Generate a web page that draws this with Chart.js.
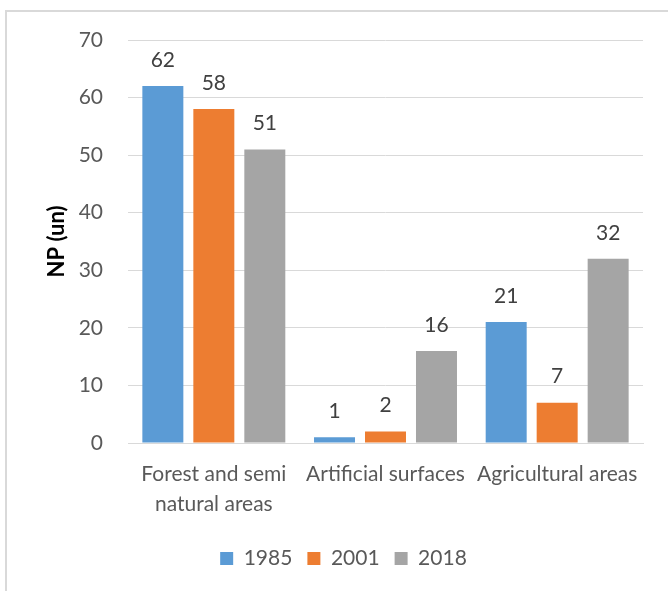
<!DOCTYPE html>
<html>
<head>
<meta charset="utf-8">
<script src="https://cdn.jsdelivr.net/npm/chart.js@4"></script>
<style>
html,body{margin:0;padding:0;background:#fff;}
#wrap{position:relative;width:668px;height:591px;overflow:hidden;}
#frame{position:absolute;left:5px;top:10px;width:800px;height:800px;border-left:2px solid #d9d9d9;border-top:2px solid #d9d9d9;pointer-events:none;}
canvas{position:absolute;left:0;top:0;}
</style>
</head>
<body>
<div id="wrap"><div id="frame"></div><canvas id="c" width="668" height="591"></canvas></div>
<script>
const categories = [["Forest and semi", "natural areas"], "Artificial surfaces", "Agricultural areas"];
const seriesNames = ["1985", "2001", "2018"];
const values1985 = [62, 1, 21];
const values2001 = [58, 2, 7];
const values2018 = [51, 16, 32];
const colors = ["#5b9bd5", "#ed7d31", "#a5a5a5"];
const yTicks = [0, 10, 20, 30, 40, 50, 60, 70];
const yTitle = "NP (un)";

const FONT = "Lato, 'Open Sans', sans-serif";

const labelPlugin = {
  id: 'barLabels',
  afterDatasetsDraw(chart) {
    const ctx = chart.ctx;
    ctx.save();
    ctx.font = "21px " + FONT;
    ctx.fillStyle = "#404040";
    ctx.textAlign = "center";
    ctx.textBaseline = "middle";
    chart.data.datasets.forEach((ds, i) => {
      chart.getDatasetMeta(i).data.forEach((bar, j) => {
        ctx.fillText(String(ds.data[j]), bar.x, bar.y - 26);
      });
    });
    ctx.restore();
  }
};

new Chart(document.getElementById('c'), {
  type: 'bar',
  data: {
    labels: categories,
    datasets: seriesNames.map((n, i) => ({
      label: n,
      data: [values1985, values2001, values2018][i],
      backgroundColor: colors[i],
      borderWidth: 0,
      categoryPercentage: 0.891,
      barPercentage: 0.804
    }))
  },
  options: {
    responsive: false,
    animation: false,
    layout: { padding: { left: 44, right: 25, top: 40, bottom: 12 } },
    plugins: {
      tooltip: { enabled: false },
      legend: {
        position: 'bottom',
        labels: {
          font: { family: FONT, size: 21 },
          color: "#595959",
          boxWidth: 13,
          boxHeight: 13,
          padding: 15
        }
      }
    },
    scales: {
      x: {
        grid: { display: false, drawTicks: false },
        border: { display: true, color: "#d9d9d9", width: 1 },
        ticks: {
          font: { family: FONT, size: 21, lineHeight: 1.4 },
          color: "#595959",
          maxRotation: 0, minRotation: 0, autoSkip: false,
          padding: 17
        },
        afterFit(s) { s.height = 90; }
      },
      y: {
        min: 0, max: 70,
        afterBuildTicks(s) { s.ticks = yTicks.map(v => ({ value: v })); },
        grid: { color: "#d9d9d9", lineWidth: 1, drawTicks: false },
        border: { display: false },
        ticks: {
          font: { family: FONT, size: 21 },
          color: "#595959",
          padding: 25
        },
        title: {
          display: true,
          text: yTitle,
          font: { family: FONT, size: 22, weight: 'bold' },
          color: "#000000",
          padding: 0
        },
        afterFit(s) { s.width = 84; }
      }
    }
  },
  plugins: [labelPlugin]
});
</script>
</body>
</html>
